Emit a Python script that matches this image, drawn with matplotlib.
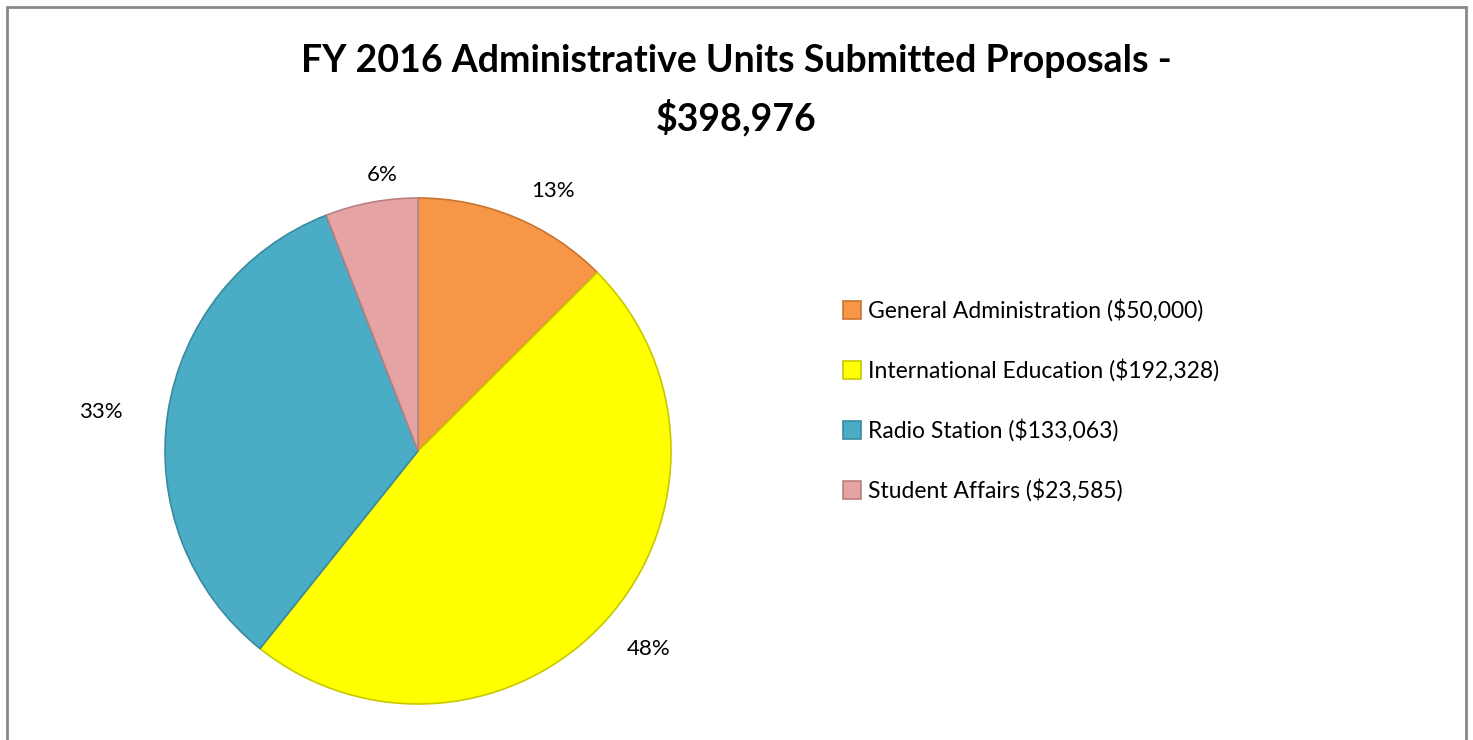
import numpy as np
import matplotlib.pyplot as plt
from matplotlib.patches import Rectangle

plt.rcParams['font.family'] = ['Lato', 'DejaVu Sans']

# data
units = ['General Administration', 'International Education', 'Radio Station', 'Student Affairs']
amounts = [50000, 192328, 133063, 23585]
total = 398976
colors = ['#F79646', '#FFFF00', '#4BACC6', '#E6A3A3']
edges = ['#C87432', '#C8C800', '#3A8AA0', '#B88080']
# % label placement (distance from centre, angle nudge in degrees) - Excel "best fit" look
label_dist = [1.16, 1.20, 1.265, 1.10]
label_nudge = [-4.9, 1.3, 1.7, -3.2]

labels = ['{} (${:,})'.format(u, a) for u, a in zip(units, amounts)]

fig = plt.figure(figsize=(14.73, 7.40), dpi=100)

# outer frame like the exported chart (bottom edge is cut off)
fig.patches.append(Rectangle((7 / 1473, -10 / 740), 1459 / 1473, 743 / 740,
                             transform=fig.transFigure, fill=False,
                             edgecolor='#888888', linewidth=2))

fig.text(0.5, 1 - 90 / 740, 'FY 2016 Administrative Units Submitted Proposals -\n$' + '{:,}'.format(total),
         ha='center', va='center', fontsize=27, fontweight='bold', linespacing=1.67)

# pie centered at (418, 451) px, radius 253 px
cx, cy, r = 418, 451, 253
ax = fig.add_axes([(cx - r) / 1473, 1 - (cy + r) / 740, 2 * r / 1473, 2 * r / 740])
wedges, texts, autotexts = ax.pie(amounts, colors=colors, startangle=90, counterclock=False,
                                  autopct='%.0f%%', pctdistance=1.2,
                                  wedgeprops=dict(linewidth=1.2),
                                  textprops=dict(fontsize=16))
for w, e, t, d, n in zip(wedges, edges, autotexts, label_dist, label_nudge):
    w.set_edgecolor(e)
    ang = np.deg2rad((w.theta1 + w.theta2) / 2 + n)
    t.set_position((d * np.cos(ang), d * np.sin(ang)))
ax.set_xlim(-1.0, 1.0)
ax.set_ylim(-1.0, 1.0)
ax.set_aspect('equal')

fig.legend(wedges, labels, loc='upper left', bbox_to_anchor=(843 / 1473, 1 - 299 / 740),
           frameon=False, fontsize=16.5, handlelength=0.8, handleheight=0.8,
           handletextpad=0.3, labelspacing=1.62, borderpad=0, borderaxespad=0)

fig.savefig('out.png', dpi=100)
